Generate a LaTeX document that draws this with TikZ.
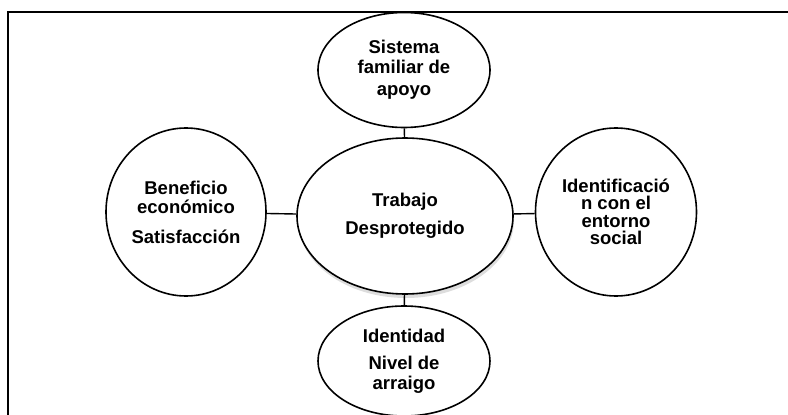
\documentclass[tikz,border=0pt]{standalone}
\usepackage{fontspec}
\setmainfont{Liberation Sans}
\usetikzlibrary{shapes.geometric,shadows}
\begin{document}
\begin{tikzpicture}[x=1pt,y=-1pt,
  bubble/.style={ellipse,draw=black,line width=1.6pt,fill=white,inner sep=0pt,
    align=center,font=\fontsize{18.5}{19.5}\selectfont\bfseries},
  link/.style={draw=black,line width=1.4pt},
  frameline/.style={draw=black,line width=1.8pt}]
\useasboundingbox (0,0) rectangle (788,415);
% frame (top and left edges only)
\coordinate (fbl) at (8,416);
\coordinate (ftl) at (8,12);
\coordinate (ftr) at (789,12);
\draw[frameline] (fbl) -- (ftl) -- (ftr);
% nodes
\node[bubble,minimum width=216pt,minimum height=156pt,
  drop shadow={shadow xshift=1pt,shadow yshift=-4pt,opacity=0.22,fill=black!60}]
  (C) at (405,216) {Trabajo\\[8pt]Desprotegido};
\node[bubble,minimum width=172pt,minimum height=115pt] (T) at (404,70)
  {Sistema\\familiar de\\[3pt]apoyo};
\node[bubble,minimum width=160pt,minimum height=168pt] (L) at (186,212)
  {Beneficio\\económico\\[10pt]Satisfacción};
\node[bubble,minimum width=161pt,minimum height=168pt] (R) at (616,212)
  {Identificació\\[-2pt]n con el\\[-2pt]entorno\\[-2pt]social};
\node[bubble,minimum width=172pt,minimum height=110pt] (B) at (404,361)
  {Identidad\\[8pt]Nivel de\\arraigo};
% connectors
\draw[link] (T) -- (C);
\draw[link] (L) -- (C);
\draw[link] (R) -- (C);
\draw[link] (B) -- (C);
\end{tikzpicture}
\end{document}
